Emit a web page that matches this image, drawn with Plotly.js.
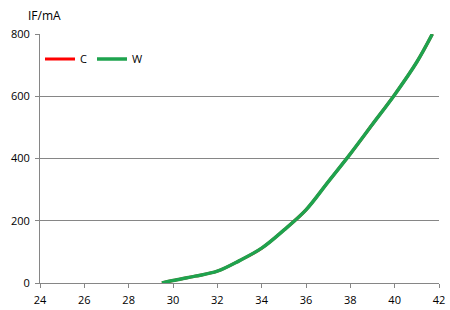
<!DOCTYPE html>
<html><head><meta charset="utf-8">
<script src="https://cdn.plot.ly/plotly-3.0.1.min.js"></script>
<style>html,body{margin:0;padding:0;background:#fff}</style>
</head><body><div id="chart" style="width:450px;height:310px"></div>
<script>
const xW = [29.5, 30, 31, 32, 33, 34, 35, 36, 37, 38, 39, 40, 41, 41.7];
const yW = [0, 8, 22, 38, 72, 112, 170, 235, 325, 415, 510, 605, 710, 800];
const xC = [29.5, 30, 31, 32, 33, 34, 35, 36, 37, 38, 39, 40, 41, 41.7];
const yC = [0, 8, 22, 38, 72, 112, 170, 235, 325, 415, 510, 605, 710, 800];
const xTicks = [24, 26, 28, 30, 32, 34, 36, 38, 40, 42];
const yTicks = [0, 200, 400, 600, 800];

const font = {family: 'Open Sans, Liberation Sans, sans-serif', size: 11, color: '#000'};
Plotly.newPlot('chart', [
  {x: xC, y: yC, name: 'C', mode: 'lines', line: {color: '#ff0000', width: 3, shape: 'spline'}},
  {x: xW, y: yW, name: 'W', mode: 'lines', line: {color: '#1ea34e', width: 3.5, shape: 'spline'}}
], {
  width: 450, height: 310,
  margin: {l: 40, r: 11, t: 34, b: 27},
  paper_bgcolor: '#fff', plot_bgcolor: '#fff',
  font: font,
  showlegend: true,
  legend: {orientation: 'h', x: 0.0, y: 0.90, xanchor: 'left', yanchor: 'middle', font: {size: 11}, bgcolor: 'rgba(0,0,0,0)', itemwidth: 30, tracegroupgap: 0},
  annotations: [{text: 'IF/mA', xref: 'paper', yref: 'paper', x: -0.035, y: 1.0, xanchor: 'left', yanchor: 'bottom', yshift: 8, showarrow: false, font: {size: 12, family: font.family}}],
  xaxis: {range: [24, 42], tickvals: xTicks, ticktext: xTicks.map(String), showgrid: false, zeroline: false,
    showline: true, linecolor: '#868686', linewidth: 1, ticks: 'outside', ticklen: 4, tickcolor: '#868686', fixedrange: true, ticklabelstandoff: 3},
  yaxis: {range: [0, 800], tickvals: yTicks, ticktext: yTicks.map(String), showgrid: true, gridcolor: '#868686', gridwidth: 1,
    zeroline: false, showline: true, linecolor: '#868686', linewidth: 1, ticks: 'outside', ticklen: 4, tickcolor: '#868686', fixedrange: true, ticklabelstandoff: 3}
}, {displayModeBar: false, staticPlot: true});
</script></body></html>
